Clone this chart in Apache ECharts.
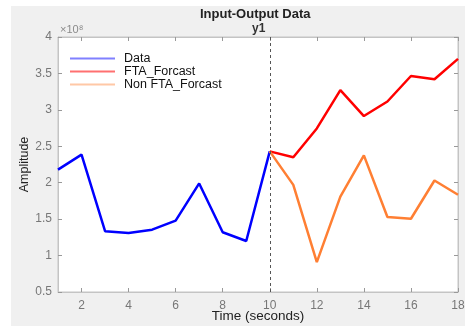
<!DOCTYPE html>
<html>
<head>
<meta charset="utf-8">
<script src="https://cdn.jsdelivr.net/npm/echarts@6/dist/echarts.min.js"></script>
<style>
  html, body { margin: 0; padding: 0; background: #fff; }
  #main { width: 465px; height: 329px; }
</style>
</head>
<body>
<div id="main"></div>
<script>
// 数据 (单位: x10^8)
const dataTime = [1, 2, 3, 4, 5, 6, 7, 8, 9, 10];
const dataAmp = [2.18, 2.385, 1.335, 1.31, 1.355, 1.48, 1.99, 1.32, 1.2, 2.43];
const forecastTime = [10, 11, 12, 13, 14, 15, 16, 17, 18];
const ftaForecast = [2.43, 2.35, 2.745, 3.27, 2.915, 3.115, 3.465, 3.42, 3.7];
const nonFtaForecast = [2.43, 1.97, 0.91, 1.81, 2.375, 1.53, 1.505, 2.03, 1.835];
const xTicks = [2, 4, 6, 8, 10, 12, 14, 16, 18];
const splitTime = 10;

const pairs = (xs, ys) => xs.map((x, i) => [x, ys[i]]);

const chart = echarts.init(document.getElementById('main'));
const font = 'Liberation Sans, Arial, sans-serif';

const option = {
  animation: false,
  textStyle: { fontFamily: font },
  graphic: [
    {
      type: 'rect',
      z: -10,
      shape: { x: 11, y: 6, width: 454, height: 320 },
      style: { fill: '#f0f0f0' }
    },
    {
      type: 'text',
      left: 60,
      top: 24,
      style: { text: '×10⁸', fill: '#8a8a8a', font: '11px ' + font }
    },
    {
      type: 'text',
      left: 252,
      top: 23,
      style: { text: 'y1', fill: '#333', font: 'bold 12px ' + font }
    }
  ],
  title: {
    text: 'Input-Output Data',
    left: 200,
    top: 8,
    padding: 0,
    textStyle: { fontSize: 13, fontWeight: 'bold', color: '#222', fontFamily: font }
  },
  legend: {
    orient: 'vertical',
    left: 65,
    top: 47,
    itemWidth: 45,
    itemHeight: 2,
    itemGap: 0,
    icon: 'rect',
    textStyle: { fontSize: 12.5, color: '#111', fontFamily: font, padding: [0, 0, 0, 4], lineHeight: 13 },
    data: [
      { name: 'Data', itemStyle: { color: '#8080ff' } },
      { name: 'FTA_Forcast', itemStyle: { color: '#ff7070' } },
      { name: 'Non FTA_Forcast', itemStyle: { color: '#ffc8a6' } }
    ]
  },
  grid: {
    left: 58,
    right: 7,
    top: 37,
    bottom: 37,
    outerBoundsMode: 'none',
    containLabel: false,
    show: true,
    backgroundColor: '#fff',
    borderColor: '#c4c4c4',
    borderWidth: 1
  },
  xAxis: [
    {
      type: 'value',
      min: 1,
      max: 18,
      name: 'Time (seconds)',
      nameLocation: 'middle',
      nameGap: 17,
      nameMoveOverlap: false,
      nameTextStyle: { fontSize: 13.5, color: '#222' },
      axisLine: { lineStyle: { color: '#c4c4c4' } },
      axisTick: { inside: true, length: 4, customValues: xTicks, lineStyle: { color: '#999' } },
      axisLabel: { customValues: xTicks, fontSize: 12, color: '#777', margin: 8 },
      splitLine: { show: false }
    },
    {
      type: 'value',
      position: 'top',
      min: 1,
      max: 18,
      axisLine: { lineStyle: { color: '#c4c4c4' } },
      axisTick: { inside: true, length: 4, customValues: xTicks, lineStyle: { color: '#999' } },
      axisLabel: { show: false },
      splitLine: { show: false }
    }
  ],
  yAxis: [
    {
      type: 'value',
      min: 0.5,
      max: 4,
      interval: 0.5,
      name: 'Amplitude',
      nameLocation: 'middle',
      nameGap: 27,
      nameMoveOverlap: false,
      nameTextStyle: { fontSize: 12.5, color: '#222' },
      axisLine: { show: true, lineStyle: { color: '#c4c4c4' } },
      axisTick: { show: true, inside: true, length: 4, lineStyle: { color: '#999' } },
      axisLabel: { fontSize: 12, color: '#777', margin: 6 },
      splitLine: { show: false }
    },
    {
      type: 'value',
      position: 'right',
      min: 0.5,
      max: 4,
      interval: 0.5,
      axisLine: { show: true, lineStyle: { color: '#c4c4c4' } },
      axisTick: { show: true, inside: true, length: 4, lineStyle: { color: '#999' } },
      axisLabel: { show: false },
      splitLine: { show: false }
    }
  ],
  series: [
    {
      name: 'Data',
      type: 'line',
      symbol: 'none',
      color: '#0000ff',
      lineStyle: { width: 2.5 },
      data: pairs(dataTime, dataAmp),
      markLine: {
        silent: true,
        symbol: 'none',
        lineStyle: { type: [3, 3], color: '#555', width: 1 },
        label: { show: false },
        data: [{ xAxis: splitTime }]
      }
    },
    {
      name: 'FTA_Forcast',
      type: 'line',
      symbol: 'none',
      color: '#ff0000',
      lineStyle: { width: 2.5 },
      data: pairs(forecastTime, ftaForecast)
    },
    {
      name: 'Non FTA_Forcast',
      type: 'line',
      symbol: 'none',
      color: '#ff7f33',
      lineStyle: { width: 2.5 },
      data: pairs(forecastTime, nonFtaForecast)
    }
  ]
};
chart.setOption(option);
</script>
</body>
</html>
